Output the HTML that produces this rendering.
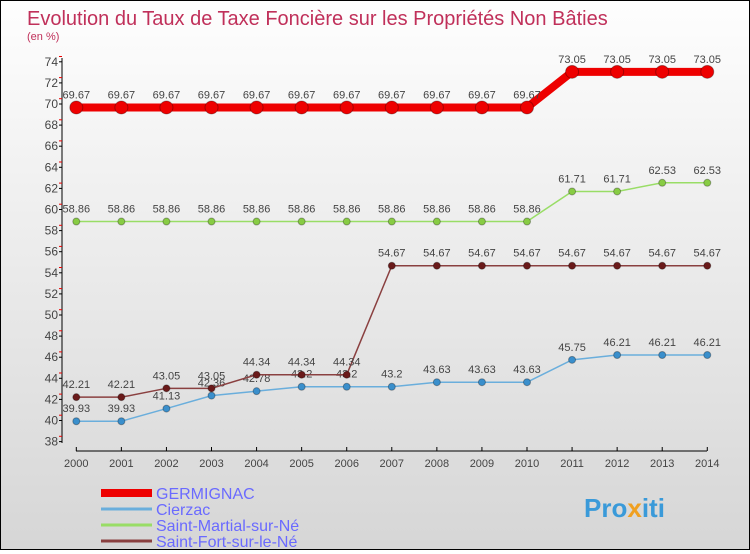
<!DOCTYPE html>
<html><head><meta charset="utf-8"><style>
body{margin:0;width:750px;height:550px;overflow:hidden}
#wrap{position:relative;width:748px;height:548px;border:1px solid #000;background:linear-gradient(#fefefe,#d6d6d6);font-family:"Liberation Sans",sans-serif}
svg text{font-family:"Liberation Sans",sans-serif}
</style></head><body>
<div id="wrap">
<svg id="chart" width="748" height="548">
<text x="26" y="24" font-size="20" fill="#c0305a">Evolution du Taux de Taxe Foncière sur les Propriétés Non Bâties</text>
<text x="26" y="39" font-size="11" fill="#c0305a">(en %)</text>
<g id="axes"></g><g id="series"></g>
<text x="583" y="516" font-size="26" font-weight="bold" fill="#3a9ad9">Pro<tspan fill="#f0a020">x</tspan>iti</text>
</svg>
</div>
<script>
const years=[2000,2001,2002,2003,2004,2005,2006,2007,2008,2009,2010,2011,2012,2013,2014];
const germignac=[69.67,69.67,69.67,69.67,69.67,69.67,69.67,69.67,69.67,69.67,69.67,73.05,73.05,73.05,73.05];
const cierzac=[39.93,39.93,41.13,42.36,42.78,43.2,43.2,43.2,43.63,43.63,43.63,45.75,46.21,46.21,46.21];
const martial=[58.86,58.86,58.86,58.86,58.86,58.86,58.86,58.86,58.86,58.86,58.86,61.71,61.71,62.53,62.53];
const fort=[42.21,42.21,43.05,43.05,44.34,44.34,44.34,54.67,54.67,54.67,54.67,54.67,54.67,54.67,54.67];
const yTicks=[38,40,42,44,46,48,50,52,54,56,58,60,62,64,66,68,70,72,74];
const names=["GERMIGNAC","Cierzac","Saint-Martial-sur-Né","Saint-Fort-sur-le-Né"];
const NS="http://www.w3.org/2000/svg";
const X=i=>75.3+i*45.07, Y=v=>419.5-(v-40)*10.55;
function mk(t,a,p){const e=document.createElementNS(NS,t);for(const k in a)e.setAttribute(k,a[k]);p.appendChild(e);return e;}
const ax=document.getElementById('axes'), sg=document.getElementById('series');
let l=mk('line',{x1:61,y1:57,x2:61,y2:442,stroke:'#000'},ax);


l=mk('line',{x1:75,y1:450,x2:706,y2:450,stroke:'#000'},ax);


yTicks.forEach(v=>{const y=Y(v);
 mk('line',{x1:58,y1:y,x2:61,y2:y,stroke:'#000'},ax);
 mk('line',{x1:58,y1:y-5.3,x2:61,y2:y-5.3,stroke:'#e00'},ax);
 const t=mk('text',{x:57,y:y+4,'text-anchor':'end','font-size':12,fill:'#444'},ax);t.textContent=v;
 
 });
years.forEach((yr,i)=>{mk('line',{x1:X(i),y1:446,x2:X(i),y2:450,stroke:'#000'},ax);
 const t=mk('text',{x:X(i),y:466,'text-anchor':'middle','font-size':11,fill:'#444'},ax);t.textContent=yr;
 
 });
function series(d,col,w,r,dot,name,below){
 const g=mk('g',{},sg);
 
 
 mk('polyline',{points:d.map((v,i)=>X(i)+','+Y(v)).join(' '),fill:'none',stroke:col,'stroke-width':w},g);
 d.forEach((v,i)=>{const c=mk('circle',{cx:X(i),cy:Y(v),r:r,fill:dot,stroke:'rgba(0,0,0,0.3)'},g);
  
  
  const t=mk('text',{x:X(i),y:below?Y(v)+17:Y(v)-9,'text-anchor':'middle','font-size':11,fill:'#444'},g);t.textContent=v;
  
  });
}
series(cierzac,'#6aaedc',1.5,3.5,'#3a8fcc','series-cierzac',false);
series(fort,'#8a4040',1.5,3.5,'#6a1a1a','series-saint-fort',false);
series(martial,'#99dd66',1.5,3.5,'#88cc44','series-saint-martial',false);
series(germignac,'#ee0000',8,6.5,'#ee0000','series-germignac',false);
const cols=['#ee0000','#6aaedc','#99dd66','#8a4040'],ws=[8,3,3,3];
names.forEach((n,i)=>{const y=492+i*16;
 const g=mk('g',{},sg);
 
 
 mk('line',{x1:100,y1:y,x2:151,y2:y,stroke:cols[i],'stroke-width':ws[i]},g);
 const t=mk('text',{x:155,y:y+6,'font-size':16,fill:'#6a6aff'},g);t.textContent=n;});
</script>
</body></html>
